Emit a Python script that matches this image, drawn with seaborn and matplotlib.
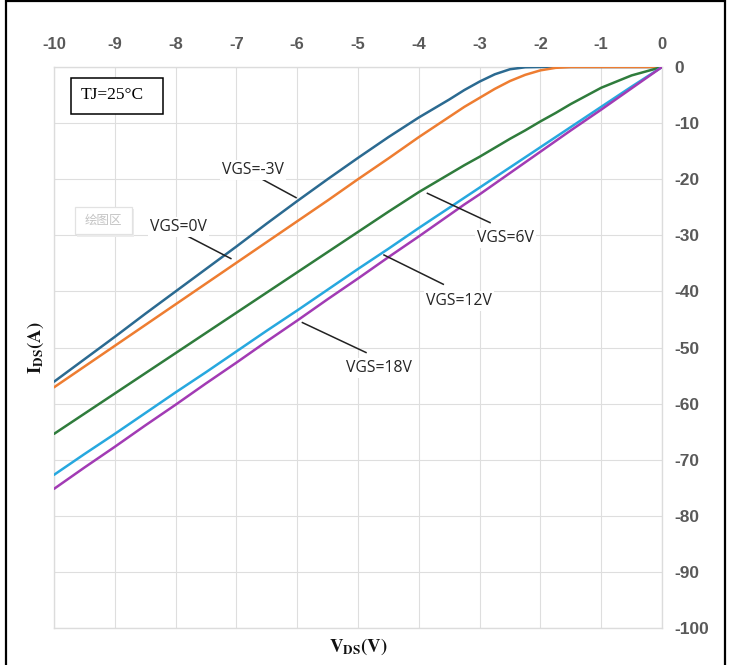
import matplotlib
matplotlib.use("Agg")
import matplotlib.pyplot as plt
import pandas as pd
import seaborn as sns
from matplotlib.lines import Line2D
from matplotlib.patches import Rectangle

# ---------------- data ----------------
vds = [-10, -9.5, -9, -8.5, -8, -7.5, -7, -6.5, -6, -5.5, -5, -4.5, -4,
       -3.5, -3.25, -3, -2.75, -2.5, -2.25, -2, -1.75, -1.5, -1, -0.5, 0]

ids_vgs_m3 = [-56.1, -52.1, -48.1, -44.0, -40.0, -36.0, -32.0, -27.9, -23.9,
              -20.0, -16.2, -12.5, -9.0, -5.8, -4.1, -2.6, -1.3, -0.4, -0.05,
              0.0, 0.0, 0.0, 0.0, 0.0, 0.0]
ids_vgs_0 = [-57.1, -53.4, -49.7, -46.0, -42.3, -38.6, -34.9, -31.2, -27.5,
             -23.8, -20.0, -16.3, -12.5, -8.9, -7.1, -5.5, -3.9, -2.5, -1.4,
             -0.6, -0.15, 0.0, 0.0, 0.0, 0.0]
ids_vgs_6 = [-65.4, -61.8, -58.2, -54.6, -51.0, -47.4, -43.8, -40.2, -36.6,
             -33.0, -29.4, -25.8, -22.3, -19.1, -17.5, -16.0, -14.4, -12.8,
             -11.3, -9.7, -8.2, -6.6, -3.7, -1.5, 0.0]
ids_vgs_12 = [-72.7, -69.0, -65.4, -61.7, -58.0, -54.4, -50.7, -47.0, -43.4,
              -39.7, -36.0, -32.4, -28.7, -25.1, -23.3, -21.5, -19.7, -17.9,
              -16.1, -14.3, -12.5, -10.7, -7.1, -3.5, 0.0]
ids_vgs_18 = [-75.2, -71.4, -67.7, -63.9, -60.2, -56.4, -52.7, -48.9, -45.2,
              -41.4, -37.7, -33.9, -30.2, -26.4, -24.5, -22.7, -20.8, -18.9,
              -17.0, -15.1, -13.2, -11.3, -7.6, -3.8, 0.0]

series_labels = ["VGS=-3V", "VGS=0V", "VGS=6V", "VGS=12V", "VGS=18V"]
x_ticks = [-10, -9, -8, -7, -6, -5, -4, -3, -2, -1, 0]
y_ticks = [-100, -90, -80, -70, -60, -50, -40, -30, -20, -10, 0]
note_text = "TJ=25°C"
plot_area_text = "绘图区"

# ---------------- styles ----------------
colors = ["#2b6a91", "#ee7d31", "#2f7c3c", "#27a8df", "#a23bb4"]

sns.set_theme(style="white")
plt.rcParams["font.family"] = ["Liberation Sans", "DejaVu Sans"]
plt.rcParams["mathtext.fontset"] = "stix"

W, H = 732, 665
fig = plt.figure(figsize=(W / 100, H / 100), dpi=100)
fig.patch.set_facecolor("white")
ax = fig.add_axes([54 / W, 1 - 628 / H, 608 / W, 561 / H])

rows = []
for lab, vals in zip(series_labels,
                     [ids_vgs_m3, ids_vgs_0, ids_vgs_6, ids_vgs_12, ids_vgs_18]):
    for x, y in zip(vds, vals):
        rows.append({"VDS": x, "IDS": y, "VGS": lab})
df = pd.DataFrame(rows)

sns.lineplot(data=df, x="VDS", y="IDS", hue="VGS", hue_order=series_labels,
             palette=colors, linewidth=1.8, legend=False, errorbar=None,
             ax=ax, zorder=3)

ax.set_xlim(-10, 0)
ax.set_ylim(-100, 0)
ax.xaxis.tick_top()
ax.yaxis.tick_right()
ax.set_xticks(x_ticks)
ax.set_yticks(y_ticks)
ax.set_xticklabels([str(t) for t in x_ticks])
ax.set_yticklabels([str(t) for t in y_ticks])
ax.tick_params(axis="x", length=0, pad=11, labelsize=12, labelcolor="#595959")
ax.tick_params(axis="y", length=0, pad=9, labelsize=12.5, labelcolor="#595959")
for lbl in ax.get_xticklabels() + ax.get_yticklabels():
    lbl.set_fontweight("bold")
ax.grid(True, color="#dedede", linewidth=0.8)
for sp in ax.spines.values():
    sp.set_color("#dcdcdc")
    sp.set_linewidth(1.0)

ax.set_xlabel(r"$\mathbf{V_{DS}(V)}$", fontsize=13.5, color="#111111", labelpad=6)
ax.set_ylabel(r"$\mathbf{I_{DS}(A)}$", fontsize=13.5, color="#111111", labelpad=6)

# ---------------- annotations ----------------
ann_font = dict(family=["Open Sans", "DejaVu Sans"], fontsize=11.3, color="#262626")
ann = [
    ("VGS=-3V", (-6.727, -18.3), (-6.612, -19.8), (-6.008, -23.35)),
    ("VGS=0V", (-7.956, -28.55), (-7.82, -30.06), (-7.08, -34.21)),
    ("VGS=6V", (-2.569, -30.47), (-3.870, -22.46), (-2.817, -27.80)),
    ("VGS=12V", (-3.336, -41.76), (-4.584, -33.45), (-3.586, -38.79)),
    ("VGS=18V", (-4.651, -53.62), (-5.926, -45.5), (-4.857, -50.95)),
]
for txt, tpos, p0, p1 in ann:
    ax.plot([p0[0], p1[0]], [p0[1], p1[1]], color="#222222", lw=1.1,
            zorder=4, solid_capstyle="butt")
    ax.text(tpos[0], tpos[1], txt, ha="center", va="center", zorder=5,
            bbox=dict(facecolor="white", edgecolor="none", pad=1.5),
            **ann_font)

# TJ box
ax.add_patch(Rectangle((-9.72, -8.39), 1.508, 6.41, facecolor="white",
                       edgecolor="black", lw=1.1, zorder=5))
ax.text(-9.556, -5.0, note_text, ha="left", va="center", zorder=6,
        family=["Liberation Serif", "DejaVu Serif"], fontsize=12.5,
        color="black")

# faint "plot area" tooltip (with soft shadow)
ax.add_patch(Rectangle((-9.62, -30.3), 0.93, 4.9, facecolor="#ececec",
                       edgecolor="none", zorder=4))
ax.add_patch(Rectangle((-9.65, -29.8), 0.93, 4.9, facecolor="white",
                       edgecolor="#e2e2e2", lw=0.9, zorder=4.5))
ax.text(-9.185, -27.35, plot_area_text, ha="center", va="center", zorder=5,
        family=["Noto Sans CJK SC", "DejaVu Sans"], fontsize=9,
        color="#c4c4c4")

# outer frame lines
fig.add_artist(Line2D([6 / W, 6 / W], [0, 1], color="black", lw=1.6))
fig.add_artist(Line2D([724.5 / W, 724.5 / W], [0, 1], color="black", lw=1.6))
fig.add_artist(Line2D([6 / W, 724.5 / W], [1 - 1 / H, 1 - 1 / H],
                      color="black", lw=1.6))

fig.savefig("out.png", dpi=100, facecolor="white")
